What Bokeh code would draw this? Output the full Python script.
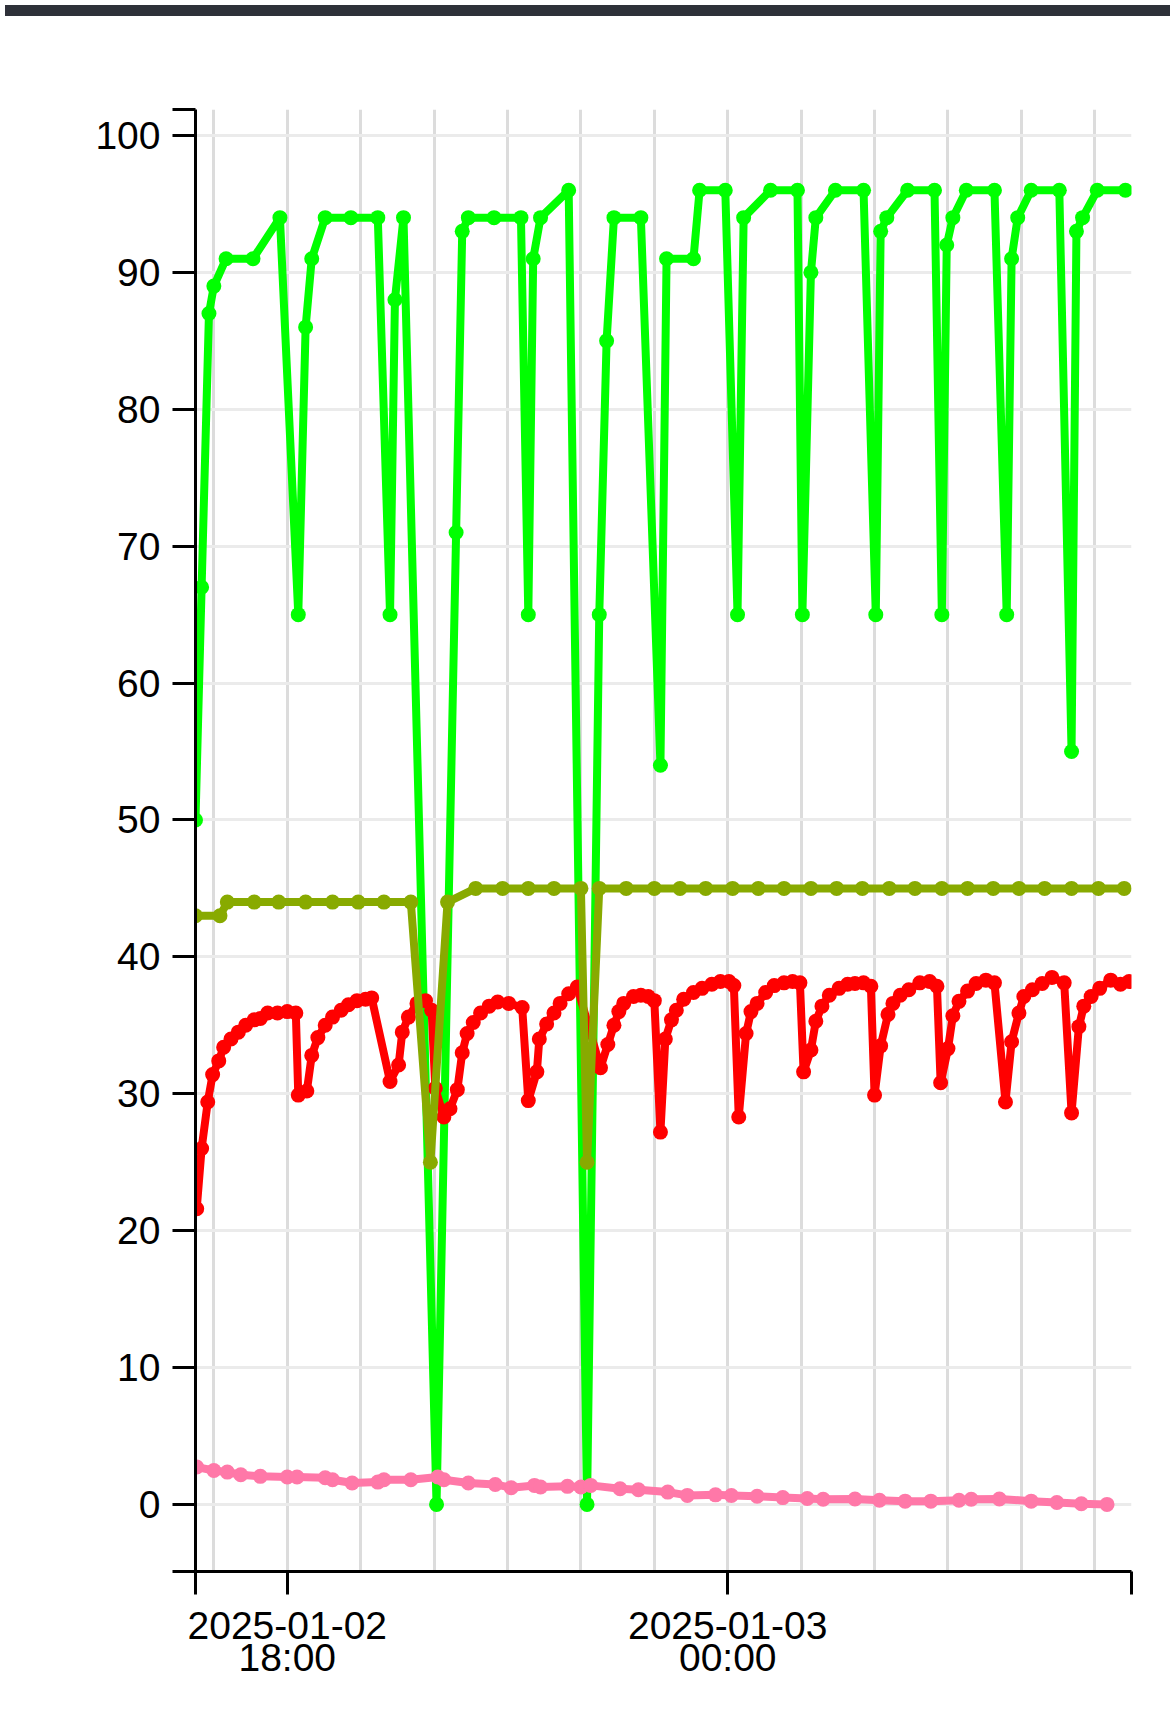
from datetime import datetime
from bokeh.plotting import figure
from bokeh.models import Range1d, FixedTicker, CustomJSTickFormatter, Div
from bokeh.layouts import column
from bokeh.embed import file_html
from bokeh.resources import INLINE

# ---------------- data (clock times on 2025-01-02 / 2025-01-03) ----------------
green_times = ["16:45", "16:50", "16:56", "17:00", "17:10", "17:32", "17:54", "18:09", "18:15", "18:20",
               "18:31", "18:52", "19:14", "19:24", "19:28", "19:35", "20:02", "20:18", "20:23", "20:28",
               "20:49", "21:11", "21:17", "21:21", "21:27", "21:50", "22:05", "22:15", "22:21", "22:27",
               "22:49", "23:05", "23:10", "23:32", "23:37", "23:58", "00:08", "00:13", "00:35", "00:57",
               "01:01", "01:08", "01:12", "01:28", "01:51", "02:01", "02:05", "02:10", "02:27", "02:49",
               "02:55", "02:59", "03:04", "03:15", "03:38", "03:48", "03:52", "03:57", "04:08", "04:31",
               "04:41", "04:45", "04:50", "05:02", "05:25"]
green_values = [50, 67, 87, 89, 91, 91, 94, 65, 86, 91,
                94, 94, 94, 65, 88, 94, 0, 71, 93, 94,
                94, 94, 65, 91, 94, 96, 0, 65, 85, 94,
                94, 54, 91, 91, 96, 96, 65, 94, 96, 96,
                65, 90, 94, 96, 96, 65, 93, 94, 96, 96,
                65, 92, 94, 96, 96, 65, 91, 94, 96, 96,
                55, 93, 94, 96, 96]

olive_times = ["16:45", "17:05", "17:11", "17:33", "17:53", "18:15", "18:37", "18:58", "19:19", "19:41",
               "19:57", "20:11", "20:34", "20:56", "21:17", "21:38", "22:00", "22:05", "22:15", "22:37",
               "23:00", "23:21", "23:42", "00:04", "00:25", "00:46", "01:08", "01:29", "01:50", "02:12",
               "02:33", "02:55", "03:16", "03:37", "03:58", "04:19", "04:41", "05:03", "05:24"]
olive_values = [43, 43, 44, 44, 44, 44, 44, 44, 44, 44,
                25, 44, 45, 45, 45, 45, 45, 25, 45, 45,
                45, 45, 45, 45, 45, 45, 45, 45, 45, 45,
                45, 45, 45, 45, 45, 45, 45, 45, 45]

red_times = ["16:46", "16:50", "16:55", "16:59", "17:04", "17:08", "17:14", "17:20", "17:26", "17:33",
             "17:38", "17:44", "17:52", "18:00", "18:07", "18:09", "18:16", "18:20", "18:25", "18:31",
             "18:37", "18:44", "18:50", "18:57", "19:04", "19:09", "19:24", "19:31", "19:34", "19:39",
             "19:46", "19:53", "19:58", "20:01", "20:08", "20:13", "20:19", "20:23", "20:27", "20:32",
             "20:38", "20:45", "20:52", "21:01", "21:12", "21:17", "21:24", "21:26", "21:32", "21:38",
             "21:43", "21:50", "21:57", "22:16", "22:22", "22:27", "22:31", "22:35", "22:43", "22:49",
             "22:55", "23:00", "23:05", "23:09", "23:14", "23:18", "23:24", "23:32", "23:39", "23:47",
             "23:54", "00:01", "00:05", "00:09", "00:15", "00:19", "00:24", "00:31", "00:38", "00:46",
             "00:53", "00:59", "01:02", "01:08", "01:12", "01:17", "01:23", "01:31", "01:38", "01:44",
             "01:51", "01:57", "02:00", "02:05", "02:11", "02:15", "02:21", "02:28", "02:37", "02:45",
             "02:51", "02:54", "03:00", "03:04", "03:09", "03:16", "03:23", "03:31", "03:38", "03:47",
             "03:52", "03:58", "04:02", "04:09", "04:17", "04:25", "04:35", "04:41", "04:47", "04:51",
             "04:57", "05:04", "05:13", "05:21", "05:28"]
red_values = [21.6, 26.0, 29.4, 31.4, 32.4, 33.4, 34.0, 34.5, 35.0, 35.4,
              35.5, 35.9, 35.9, 36.0, 35.9, 29.9, 30.2, 32.8, 34.1, 35.0,
              35.6, 36.1, 36.5, 36.8, 36.9, 37.0, 30.9, 32.1, 34.5, 35.6,
              36.6, 36.8, 36.1, 30.4, 28.3, 28.9, 30.3, 33.0, 34.4, 35.2,
              35.9, 36.4, 36.7, 36.6, 36.3, 29.5, 31.6, 34.0, 35.1, 35.9,
              36.6, 37.3, 37.8, 31.9, 33.6, 35.0, 36.0, 36.6, 37.1, 37.2,
              37.1, 36.8, 27.2, 34.0, 35.4, 36.1, 36.9, 37.4, 37.7, 38.0,
              38.2, 38.2, 37.9, 28.3, 34.4, 36.0, 36.6, 37.4, 37.9, 38.1,
              38.2, 38.1, 31.6, 33.2, 35.3, 36.4, 37.2, 37.7, 38.0, 38.05,
              38.1, 37.85, 29.9, 33.5, 35.8, 36.6, 37.2, 37.6, 38.1, 38.2,
              37.85, 30.8, 33.3, 35.7, 36.75, 37.5, 38.05, 38.3, 38.1, 29.4,
              33.8, 35.9, 37.1, 37.6, 38.05, 38.5, 38.1, 28.6, 34.9, 36.4,
              37.1, 37.7, 38.3, 38.0, 38.2]

pink_times = ["16:46", "17:00", "17:11", "17:22", "17:38", "18:00", "18:08", "18:31", "18:37", "18:53",
              "19:14", "19:19", "19:41", "20:03", "20:08", "20:28", "20:50", "21:03", "21:22", "21:27",
              "21:49", "22:00", "22:08", "22:32", "22:47", "23:11", "23:27", "23:50", "00:03", "00:24",
              "00:45", "01:05", "01:18", "01:44", "02:04", "02:25", "02:46", "03:09", "03:19", "03:42",
              "04:08", "04:29", "04:49", "05:10"]
pink_values = [2.73, 2.48, 2.36, 2.17, 2.05, 2.0, 2.0, 1.95, 1.8, 1.56,
               1.63, 1.8, 1.8, 2.0, 1.8, 1.56, 1.46, 1.22, 1.39, 1.27,
               1.32, 1.27, 1.39, 1.14, 1.07, 0.9, 0.66, 0.7, 0.65, 0.6,
               0.5, 0.43, 0.38, 0.4, 0.31, 0.24, 0.24, 0.31, 0.38, 0.4,
               0.24, 0.14, 0.05, 0.0]

x_start, x_end = "16:45", "05:30"
x_tick_times = ["16:45", "18:00", "00:00", "05:30"]
x_tick_labels = ["", "2025-01-02\n18:00", "2025-01-03\n00:00", ""]
x_grid_times = ["17:00", "18:00", "19:00", "20:00", "21:00", "22:00", "23:00",
                "00:00", "01:00", "02:00", "03:00", "04:00", "05:00"]
y_start, y_end = -4.9, 101.9
y_grid_values = [0, 10, 20, 30, 40, 50, 60, 70, 80, 90, 100]
y_tick_values = [y_start] + y_grid_values + [y_end]
y_tick_labels = [""] + [str(v) for v in y_grid_values] + [""]

EPOCH = datetime(1970, 1, 1)


def to_ms(hhmm):
    h, m = map(int, hhmm.split(":"))
    day = 2 if h >= 12 else 3
    return (datetime(2025, 1, day, h, m) - EPOCH).total_seconds() * 1000.0


FONT = "Liberation Sans"

p = figure(frame_width=936, frame_height=1462,
           min_border_left=195, min_border_top=109, min_border_right=31, min_border_bottom=125,
           x_range=Range1d(to_ms(x_start), to_ms(x_end)),
           y_range=Range1d(y_start, y_end),
           output_backend="svg", toolbar_location=None, tools="")
p.outline_line_color = None
p.background_fill_color = "white"
p.border_fill_color = "white"

fmt_js = """
let best = -1, bd = Infinity;
for (let i = 0; i < vals.length; i++) {
  const d = Math.abs(vals[i] - tick);
  if (d < bd) { bd = d; best = i; }
}
return (best >= 0 && bd < tol) ? labels[best] : "";
"""

xt = [to_ms(t) for t in x_tick_times]
p.xaxis.ticker = FixedTicker(ticks=xt)
p.xaxis.formatter = CustomJSTickFormatter(args=dict(vals=xt, labels=x_tick_labels, tol=1000.0), code=fmt_js)
p.yaxis.ticker = FixedTicker(ticks=y_tick_values)
p.yaxis.formatter = CustomJSTickFormatter(args=dict(vals=y_tick_values, labels=y_tick_labels, tol=1e-6), code=fmt_js)

for ax in (p.xaxis[0], p.yaxis[0]):
    ax.axis_line_color = "black"
    ax.axis_line_width = 3
    ax.major_tick_line_color = "black"
    ax.major_tick_line_width = 3
    ax.major_tick_out = 23
    ax.major_tick_in = 0
    ax.minor_tick_out = 0
    ax.minor_tick_in = 0
    ax.major_label_text_font = FONT
    ax.major_label_text_font_size = "39px"
    ax.major_label_text_color = "black"

p.yaxis.major_label_standoff = 12
p.xaxis.major_label_standoff = 9
p.xaxis.major_label_text_line_height = 0.75

p.xgrid.ticker = FixedTicker(ticks=[to_ms(t) for t in x_grid_times])
p.xgrid.grid_line_color = "#dcdcdc"
p.xgrid.grid_line_width = 3
p.ygrid.ticker = FixedTicker(ticks=y_grid_values)
p.ygrid.grid_line_color = "#ebebeb"
p.ygrid.grid_line_width = 3

series = [
    (green_times, green_values, "#00ff00"),
    (red_times, red_values, "#ff0000"),
    (olive_times, olive_values, "#88aa00"),
    (pink_times, pink_values, "#ff78a8"),
]
for times, vals, col in series:
    xs = [to_ms(t) for t in times]
    p.line(xs, vals, line_color=col, line_width=8, line_join="round")
    p.scatter(xs, vals, size=15, fill_color=col, line_color=None)

bar = Div(text="", width=1, height=1,
          styles={"position": "fixed", "top": "0px", "left": "0px", "width": "1170px",
                  "height": "11px", "background-color": "#2e3139", "z-index": "10"})

layout = column(bar, p)
open("out.html", "w").write(file_html(layout, INLINE))
